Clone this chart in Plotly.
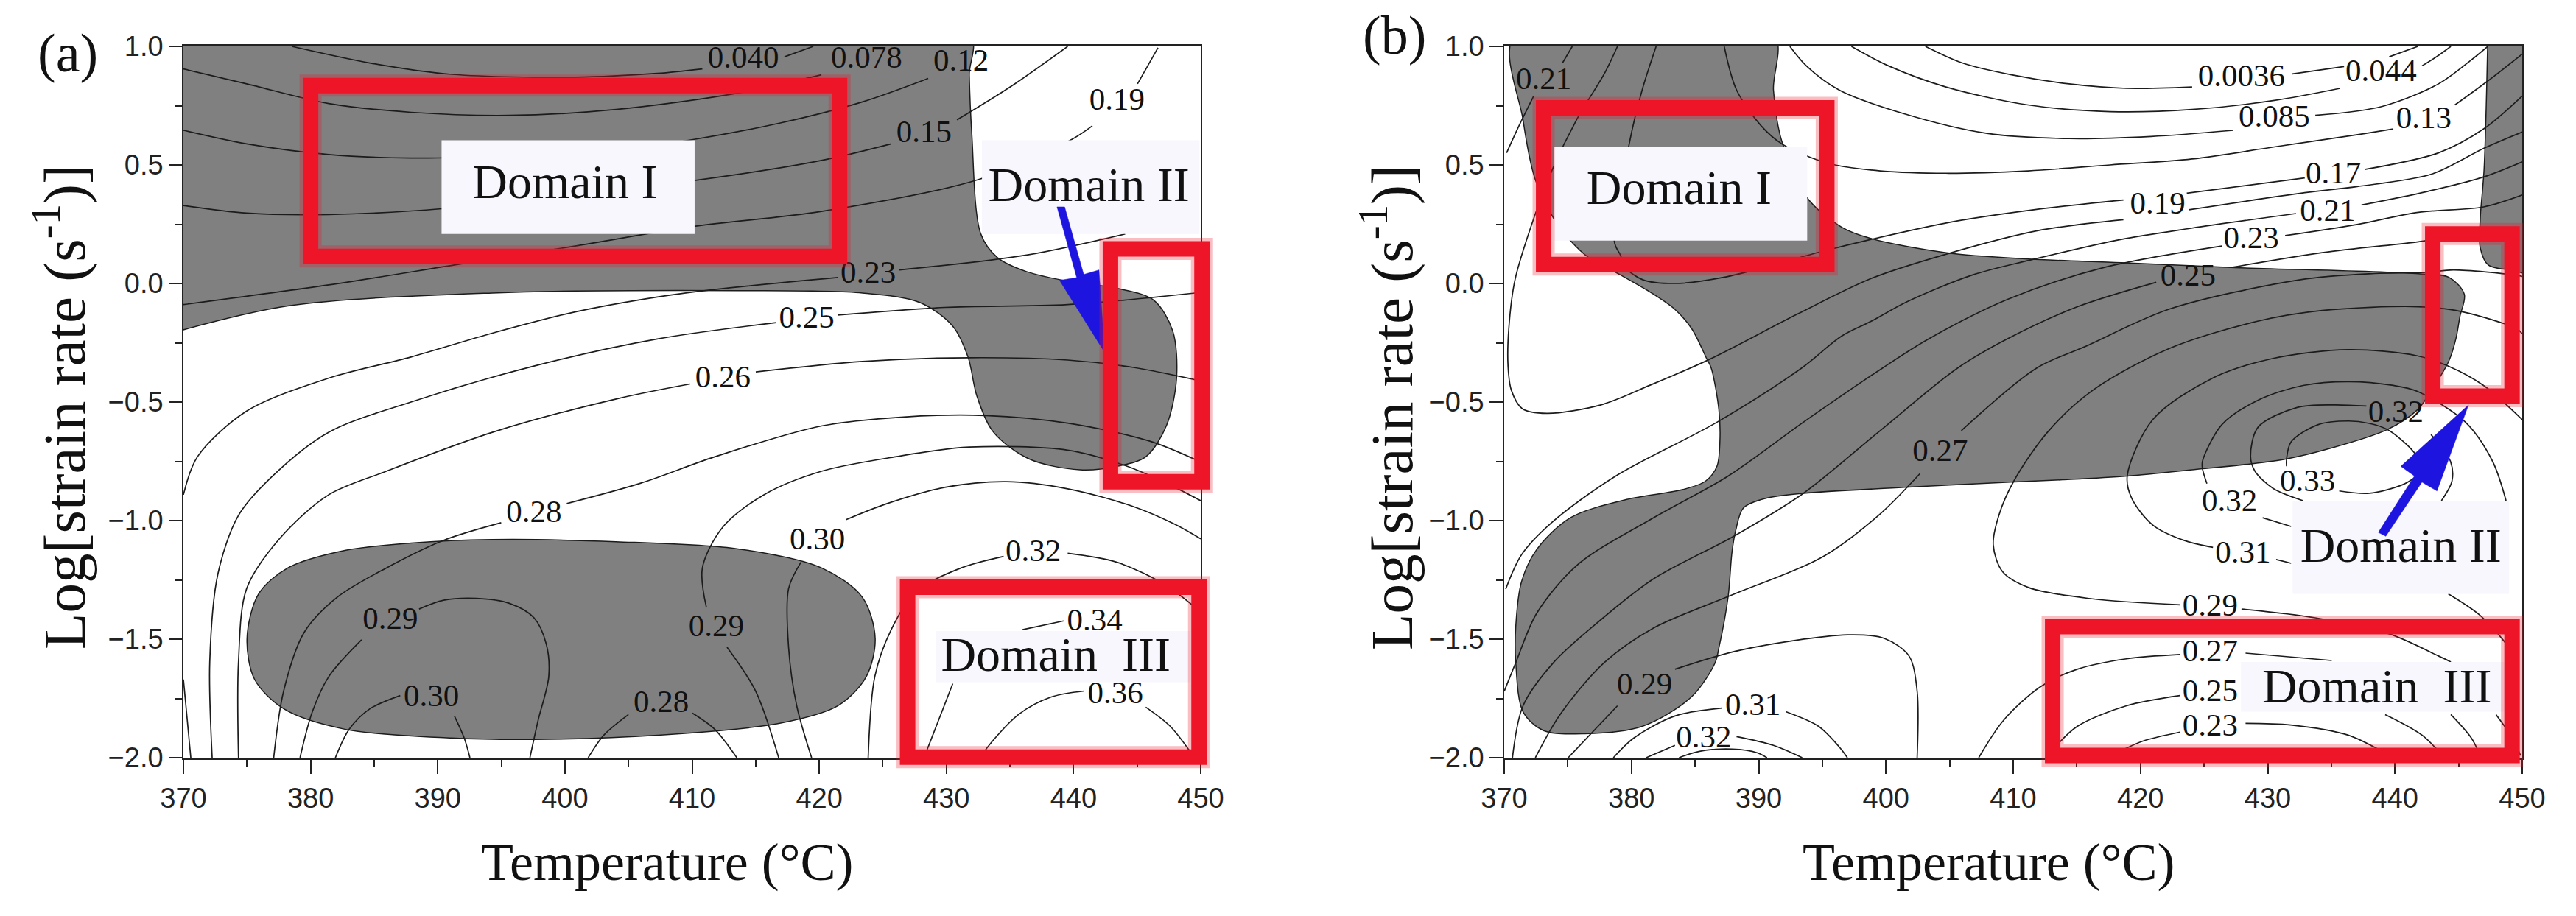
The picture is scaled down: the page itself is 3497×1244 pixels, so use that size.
import plotly.graph_objects as go

W, H = 3497, 1244
DOM_A = [249 / W, 1630 / W]
DOM_B = [2042 / W, 3424 / W]
DOM_Y = [1 - 1029 / H, 1 - 63 / H]
x_ticks = [370, 380, 390, 400, 410, 420, 430, 440, 450]
y_ticks = [-2.0, -1.5, -1.0, -0.5, 0.0, 0.5, 1.0]
X_RANGE = [370, 450]
Y_RANGE = [-2, 1]
GRAY, INK, RED, BLUE, BOX = "#808080", "#1c1c1c", "#ee1528", "#1e14e0", "#f7f7fd"
SERIF, SANS = "Liberation Serif", "Liberation Sans"

# ---------- panel (a): unstable regions ----------
gray_a_top = [(369, 1.05), (431.8, 1.05), (431.8, 0.88), (432, 0.63), (432.7, 0.21), (434, 0.11), (436.3, 0.05), (439.5, 0.01),
              (443.4, -0.02), (446.3, -0.07), (447.8, -0.2), (448.1, -0.4), (447.3, -0.6), (445.7, -0.73), (443.5, -0.77), (440.5, -0.786),
              (436.5, -0.74), (433.7, -0.627), (432.4, -0.475), (431.7, -0.31), (430.5, -0.18), (427.9, -0.08), (423.4, -0.04),
              (413.7, -0.03), (394.3, -0.04), (378.2, -0.095), (369, -0.21)]
gray_a_low = [(394.3, -1.08), (387.9, -1.095), (382.7, -1.126), (378.2, -1.2), (375.9, -1.31), (375, -1.497), (375.6, -1.67), (377.9, -1.794),
              (382.7, -1.88), (391.1, -1.917), (397.6, -1.923), (407.3, -1.905), (416.9, -1.855), (421.5, -1.78), (423.7, -1.658), (424.4, -1.497),
              (423.4, -1.324), (420.2, -1.2), (413.7, -1.12), (404, -1.089), (394.3, -1.08)]

# ---------- panel (a): iso-lines, split where a label interrupts them ----------
lines_a = [
    [(378.52, 1), (384.66, .93), (391.11, .882), (400.8, .87), (407.26, .886), (410.81, .905)],
    [(417.27, .956), (419.53, 1)],
    [(370, .905), (374.97, .842), (381.43, .759), (387.89, .722), (395.63, .709), (404.03, .734), (413.71, .804), (420.17, .88)],
    [(370, .646), (374.97, .589), (381.43, .544), (387.89, .529), (395.63, .538), (404.03, .563), (410.16, .608), (416.94, .677), (423.4, .766), (428.57, .865)],
    [(370, .329), (374.97, .297), (381.43, .291), (390.47, .316), (410.49, .437), (420.17, .519), (425.66, .589)],
    [(430.83, .69), (435.02, .829), (439.54, 1)],
    [(370, -.089), (381.43, -.006), (391.76, .082), (400.8, .158), (410.16, .241), (420.17, .304), (432.44, .437), (439.87, .608), (441.48, .665)],
    [(445.03, .842), (446.64, .994)],
    [(370, -.891), (371.1, -.731), (374.97, -.538), (381.43, -.399), (387.89, -.31), (394.34, -.209), (400.8, -.12), (407.26, -.057), (411.78, -.025), (421.46, .025)],
    [(426.31, .057), (436.31, .12), (444.06, .209)],
    [(372.26, -2), (372.07, -1.596), (372.71, -1.225), (374.33, -.978), (376.91, -.817), (381.43, -.627), (387.89, -.5), (397.57, -.348), (407.26, -.234), (416.62, -.165)],
    [(421.46, -.133), (429.86, -.101), (439.54, -.089), (450, -.038)],
    [(374.33, -2), (374.33, -1.596), (374.97, -1.287), (377.55, -1.077), (381.43, -.891), (385.95, -.792), (394.34, -.627), (404.03, -.487), (409.84, -.424)],
    [(415.01, -.373), (423.4, -.329), (431.79, -.313), (439.54, -.323), (444.71, -.354), (450, -.411)],
    [(377.1, -2), (377.88, -1.719), (379.49, -1.472), (382.07, -1.324), (385.95, -1.2), (390.47, -1.083), (394.99, -1.009)],
    [(400.15, -.928), (405.97, -.842), (411.78, -.731), (420.17, -.601), (426.63, -.563), (433.08, -.557), (439.54, -.589), (446, -.665), (450, -.753)],
    [(416.81, -2), (415, -1.719), (412.75, -1.534)],
    [(411.13, -1.367), (410.81, -1.2), (412.42, -1.027), (415.65, -.891), (420.17, -.792), (425.98, -.731), (431.79, -.69), (439.54, -.703), (444.06, -.768), (447.29, -.842), (450, -.916)],
    [(422.11, -.996), (425.34, -.928), (429.86, -.86), (434.7, -.836), (439.54, -.866), (444.71, -.941), (447.94, -1.015), (450, -1.077)],
    [(418.56, -1.176), (417.59, -1.287), (417.59, -1.534), (418.23, -1.781), (419.4, -2)],
    [(434.5, -1.151), (431.15, -1.2), (427.6, -1.299), (425.66, -1.46), (424.37, -1.658), (423.85, -2)],
    [(439.54, -1.138), (443.42, -1.176), (447.29, -1.274), (450, -1.386)],
    [(439.22, -1.423), (435.99, -1.46)],
    [(430.5, -1.688), (428.24, -2)],
    [(440.83, -1.719), (438.25, -1.744), (435.67, -1.818), (433.08, -1.967), (432.76, -2)],
    [(445.68, -1.787), (447.61, -1.868), (449.23, -1.979)],
    [(388.53, -1.373), (390.47, -1.336), (393.05, -1.328), (395.63, -1.349), (397.57, -1.41), (398.54, -1.522), (398.73, -1.658), (397.89, -1.843), (397.25, -2)],
    [(384.01, -1.503), (381.43, -1.658), (380.14, -1.806), (379.17, -2)],
    [(387.05, -1.738), (384.66, -1.794), (383.04, -1.88), (381.95, -2)],
    [(391.31, -1.824), (392.08, -1.917), (392.53, -2)],
    [(405, -1.818), (403.06, -1.905), (401.83, -2)],
    [(410.03, -1.812), (411.78, -1.88), (413.52, -2)],
    [(370, -1.67), (370.58, -2)],
]
labels_a = [("0.040", 414.04, .943), ("0.078", 423.72, .943), ("0.12", 431.15, .93), ("0.15", 428.24, .629), ("0.19", 443.42, .766),
            ("0.23", 423.85, .038), ("0.25", 419.01, -.152), ("0.26", 412.42, -.405), ("0.28", 397.57, -.972), ("0.30", 419.85, -1.087),
            ("0.32", 436.83, -1.138), ("0.34", 441.67, -1.429), ("0.36", 443.29, -1.738), ("0.29", 386.27, -1.423), ("0.29", 411.9, -1.454),
            ("0.30", 389.5, -1.75), ("0.28", 407.58, -1.775)]
boxes_a = [(390.3, 410.2, 0.209, 0.604), (432.8, 449.9, 0.209, 0.604), (429.2, 449.2, -1.682, -1.466)]
rects_a = [(380.0, 421.6, 0.114, 0.835), (442.9, 450.1, -0.836, 0.146), (426.95, 449.87, -1.998, -1.281)]
domains_a = [("Domain I", 400.0, 0.411), ("Domain II", 441.2, 0.399), ("Domain\u00a0\u00a0III", 438.6, -1.583)]
arrow_a = [(438.7, .323), (439.3, .323), (440.8, .038), (442.0, .057), (442.45, -.291), (438.9, .013), (440.25, .025), (438.7, .323)]

# ---------- panel (b): unstable regions ----------
gray_b_main = [(370.84, 1.05), (391.16, 1.05), (391.16, .816), (391.81, .601), (393.8, .362), (396.5, .238), (398.8, .19), (404.75, .13), (410.93, .104),
               (418.49, .088), (427.42, .067), (441.84, .041), (444.24, .026), (445.45, -.046), (445.1, -.14), (444.8, -.23), (444.24, -.326), (443, -.44),
               (441.76, -.533), (439.4, -.616), (434.67, -.699), (431.48, -.74), (428.65, -.761), (424.87, -.781), (418.96, -.812), (413.88, -.828), (409.76, -.838),
               (401.78, -.859), (393.51, -.885), (390.56, -.906), (388.79, -.947), (388.2, -1.04), (387.9, -1.133), (387.6, -1.32), (386.87, -1.537), (386.57, -1.6),
               (384.71, -1.744), (380.84, -1.868), (376.32, -1.899), (373.1, -1.886), (371.48, -1.806), (370.91, -1.6), (370.91, -1.444), (371.36, -1.258), (372.54, -1.123),
               (375.2, -.988), (379.63, -.911), (384.06, -.869), (385.83, -.833), (386.72, -.771), (386.95, -.668), (386.87, -.533), (386.27, -.357), (385.9, -.316),
               (384.74, -.191), (383.39, -.108), (381.46, -.036), (379.14, .036), (376.64, .109), (375.2, .181), (374.06, .259), (372.45, .437), (371.48, .69), (370.84, 1.05)]
gray_b_strip = [(447.3, 1.05), (447, .481), (446.7, .274), (446.7, .15), (447.33, .078), (449.05, .057), (451, .05), (451, 1.05)]

# ---------- panel (b): iso-lines ----------
lines_b = [
    [(403.1, 1), (406, .93), (409.87, .88), (414.39, .842), (418.9, .823), (424.06, .829)],
    [(431.94, .884), (436, .915)],
    [(439.55, .956), (441.8, 1)],
    [(397.29, 1), (400.19, .918), (404.71, .829), (411.16, .753), (417.61, .725), (424.06, .734), (430.52, .772), (435.68, .823)],
    [(442.13, .918), (443.42, .962), (444.39, 1)],
    [(392.45, 1), (393.74, .918), (396.32, .816), (401.48, .715), (407.94, .633), (414.39, .611), (420.84, .62), (427.29, .646)],
    [(433.74, .709), (439.0, .747), (443.42, .842), (446, .943), (447.29, 1)],
    [(387.29, 1), (388.26, .816), (390.19, .665), (391.81, .589), (394.06, .532), (396, .5), (399.55, .475), (404.71, .465), (411.16, .475), (417.61, .5), (424.06, .525), (430.52, .576), (436.97, .627), (439.87, .652)],
    [(444.71, .753), (447.29, .854), (450, .968)],
    [(375.35, 1), (374.58, .93)],
    [(372.32, .791), (371.16, .665), (370.19, .551)],
    [(381.94, 1), (380.84, .816), (379.87, .601), (378.66, .176), (379.14, .119), (379.53, .067), (380.88, .016), (383.39, 0), (387.25, .026), (391.11, .078), (394.97, .135), (398.83, .186), (405.1, .259), (411.62, .311), (418.66, .352)],
    [(423.64, .381), (432.91, .445)],
    [(437.61, .481), (443.42, .551), (446.97, .652), (450, .791)],
    [(378.9, 1), (377.94, .892), (375.68, .69), (373.81, .484), (372.39, .285), (370.85, .016), (370.36, -.191), (370.3, -.347), (370.56, -.45), (371.42, -.528), (373.35, -.548), (377.6, -.512), (381.46, -.429), (386.09, -.321), (393.04, -.129), (398.83, .021), (404.75, .124), (411.96, .223), (418.66, .269)],
    [(423.81, .311), (432.91, .383), (437.03, .409), (442.87, .461), (446.97, .57), (450, .639)],
    [(370.12, -1.289), (371.36, -1.144), (373.72, -1.009), (378.74, -.813), (386.72, -.585), (393.36, -.357), (396.51, -.222), (398.81, -.16), (401.66, -.077), (406.81, .036), (411.28, .098), (418.49, .186), (423.98, .233), (432.22, .295)],
    [(437.37, .331), (442.53, .388), (447, .45), (450, .513)],
    [(370, -1.72), (370.91, -1.599), (372.54, -1.392), (375.79, -1.185), (381.7, -.989), (387.6, -.812), (393.51, -.585), (399.72, -.357), (403.38, -.233), (409.56, -.067), (417.11, .067), (426.39, .158)],
    [(431.37, .202), (437.03, .249), (441.84, .3), (446.97, .323), (450, .373)],
    [(370.65, -2), (371.48, -1.781), (373.87, -1.599), (377.27, -1.433), (381.7, -1.247), (388.2, -1.061), (393.51, -.885), (399.42, -.626), (405.62, -.357), (409.56, -.233), (415.05, -.098), (421.24, .005)],
    [(427.07, .067), (434.28, .13), (441.84, .176), (444.59, .197)],
    [(372.45, -2), (374.39, -1.818), (377.86, -1.599), (381.7, -1.454), (387.6, -1.32), (395, -1.154), (399.42, -.978), (402.67, -.802)],
    [(405.92, -.621), (411.83, -.357), (415.74, -.264), (422.27, -.108), (432.57, .016), (438.4, .042), (442.53, .047), (444.59, .057), (449.39, .036), (450, .03)],
    [(423.1, -1.355), (416.2, -1.33), (411.24, -1.283), (409.17, -1.216), (408.43, -1.102), (408.87, -.978), (410.05, -.833), (412.71, -.626), (416.26, -.45), (422.27, -.274), (429.13, -.16), (434.28, -.114), (441.84, -.098), (445.27, -.119), (449.57, -.191), (450, -.212)],
    [(427.94, -1.373), (433.74, -1.41), (439.55, -1.478), (443.42, -1.571), (444.39, -1.596)],
    [(450, -.574), (446.96, -.43), (444.13, -.347), (441.76, -.305), (436.33, -.279), (430.42, -.316), (425.7, -.398), (420.97, -.574), (418.96, -.812), (419.31, -.906), (420.97, -1.019), (423.33, -1.082), (425.7, -1.113)],
    [(430.66, -1.164), (431.84, -1.18)],
    [(425.22, -.844), (424.87, -.781), (424.87, -.75), (426.4, -.595), (429.24, -.492), (432.78, -.43), (436.33, -.414), (439.87, -.43), (441.76, -.455), (445.54, -.585), (447.67, -.75), (448.73, -.916)],
    [(429.6, -.988), (431.84, -1.025)],
    [(444.19, -1.309), (446.65, -1.398), (448.58, -1.509), (449.68, -1.596)],
    [(432.78, -.916), (430.42, -.864), (429.0, -.792), (428.65, -.73), (429.24, -.606), (432.31, -.523), (435.15, -.512), (437.75, -.517)],
    [(442.83, -.637), (444.36, -.75), (444.48, -.833), (443.65, -.916)],
    [(431.48, -.771), (431.48, -.74), (431.84, -.668), (433.97, -.595), (436.33, -.58), (437.98, -.59), (439.4, -.616), (441.29, -.699), (442.24, -.771)],
    [(435.62, -.875), (437.98, -.885), (440.58, -.849), (441.76, -.812)],
    [(383.42, -1.627), (388.58, -1.546), (396.97, -1.482), (399.87, -1.497), (401.81, -1.571), (402.45, -1.719), (402.45, -2)],
    [(378.9, -1.781), (375.03, -2)],
    [(387.1, -1.791), (383.42, -1.824), (380.19, -1.917), (378.58, -2)],
    [(392.13, -1.806), (394.71, -1.868), (396.32, -1.954), (396.97, -2)],
    [(383.42, -1.948), (381.16, -2)],
    [(388.26, -1.911), (391.16, -1.948), (393.42, -2)],
    [(383.74, -2), (385.35, -1.973), (387.94, -1.964), (389.87, -1.979), (390.65, -2)],
    [(423.1, -1.565), (418.9, -1.583), (415.03, -1.627), (412.13, -1.701), (409.23, -1.843), (407.29, -2)],
    [(428.26, -1.559), (435.03, -1.59)],
    [(439.23, -1.818), (442.13, -1.905), (443.87, -2)],
    [(423.1, -1.738), (418.9, -1.781), (415.03, -1.868), (413.1, -1.967)],
    [(444.39, -1.818), (446, -1.917), (446.77, -2)],
    [(423.1, -1.892), (420.19, -1.93), (418.39, -1.973)],
    [(428.26, -1.855), (431.81, -1.862), (436.32, -1.905), (439.55, -1.991)],
    [(447.94, -1.818), (449.23, -1.917), (449.87, -1.991)],
]
labels_b = [("0.21", 373.1, .854), ("0.0036", 427.94, .867), ("0.044", 438.9, .886), ("0.085", 430.52, .696), ("0.13", 442.26, .69),
            ("0.17", 435.16, .456), ("0.19", 421.35, .329), ("0.21", 434.71, .297), ("0.23", 428.71, .184), ("0.25", 423.74, .025),
            ("0.32", 440.06, -.551), ("0.27", 404.26, -.715), ("0.33", 433.14, -.843), ("0.32", 427, -.926), ("0.31", 428.06, -1.144),
            ("0.29", 425.48, -1.367), ("0.27", 425.48, -1.561), ("0.25", 425.48, -1.726), ("0.23", 425.48, -1.874),
            ("0.29", 381.03, -1.701), ("0.31", 389.55, -1.787), ("0.32", 385.68, -1.923)]
boxes_b = [(373.93, 393.81, 0.181, 0.576), (431.96, 448.97, -1.309, -0.916), (427.9, 448.6, -1.806, -1.596)]
rects_b = [(373.1, 395.35, 0.08, 0.741), (442.97, 449.2, -0.475, 0.209), (413.1, 449.2, -1.991, -1.447)]
domains_b = [("Domain I", 383.74, 0.386), ("Domain II", 440.46, -1.123), ("Domain\u00a0\u00a0III", 438.58, -1.716)]
arrow_b = [(438.69, -1.05), (439.28, -1.066), (442.12, -.838), (443.3, -.875), (445.78, -.512), (440.46, -.771), (441.53, -.812), (438.69, -1.05)]


def add_panel(fig, xa, ya, grays, lines, labels, boxes, domains, arrow):
    base = dict(xaxis=xa, yaxis=ya, showlegend=False, hoverinfo="skip")
    for poly in grays:
        fig.add_trace(go.Scatter(x=[p[0] for p in poly], y=[p[1] for p in poly], mode="lines", fill="toself", fillcolor=GRAY,
                                 line=dict(color=INK, width=1.5, shape="spline", smoothing=0.9), **base))
    for seg in lines:
        fig.add_trace(go.Scatter(x=[p[0] for p in seg], y=[p[1] for p in seg], mode="lines",
                                 line=dict(color=INK, width=1.7, shape="spline", smoothing=0.9), **base))
    fig.add_trace(go.Scatter(x=[l[1] for l in labels], y=[l[2] for l in labels], text=[l[0] for l in labels], mode="text",
                             textfont=dict(family=SERIF, size=43, color="#111"), cliponaxis=False, **base))
    for x0, x1, y0, y1 in boxes:
        fig.add_trace(go.Scatter(x=[x0, x1, x1, x0, x0], y=[y0, y0, y1, y1, y0], mode="lines", fill="toself", fillcolor=BOX,
                                 line=dict(color=BOX, width=0), **base))
    fig.add_trace(go.Scatter(x=[p[0] for p in arrow], y=[p[1] for p in arrow], mode="lines", fill="toself", fillcolor=BLUE,
                             line=dict(color=BLUE, width=0.5), **base))
    fig.add_trace(go.Scatter(x=[d[1] for d in domains], y=[d[2] for d in domains], text=[d[0] for d in domains], mode="text",
                             textfont=dict(family=SERIF, size=66, color="#111"), cliponaxis=False, **base))


def red_frames(rects, dom):
    # paper-referenced so that the thick frames may overrun the plot area, as in the reference
    out = []
    for x0, x1, y0, y1 in rects:
        fx = [dom[0] + (v - X_RANGE[0]) / (X_RANGE[1] - X_RANGE[0]) * (dom[1] - dom[0]) for v in (x0, x1)]
        fy = [DOM_Y[0] + (v - Y_RANGE[0]) / (Y_RANGE[1] - Y_RANGE[0]) * (DOM_Y[1] - DOM_Y[0]) for v in (y0, y1)]
        for width, alpha in ((30, 0.28), (21, 1.0)):
            out.append(dict(type="rect", xref="paper", yref="paper", x0=fx[0], x1=fx[1], y0=fy[0], y1=fy[1],
                            line=dict(color=RED, width=width), opacity=alpha, layer="above"))
    return out


fig = go.Figure()
add_panel(fig, "x", "y", [gray_a_top, gray_a_low], lines_a, labels_a, boxes_a, domains_a, arrow_a)
add_panel(fig, "x2", "y2", [gray_b_main, gray_b_strip], lines_b, labels_b, boxes_b, domains_b, arrow_b)

xaxis = dict(range=X_RANGE, tickvals=x_ticks, ticks="outside", ticklen=19, tickwidth=2, tickcolor="#222",
             minor=dict(dtick=5, ticks="outside", ticklen=10, tickwidth=2, tickcolor="#222"),
             tickfont=dict(family=SANS, size=38, color="#222"), showline=True, linewidth=3, linecolor="#222", mirror=True,
             showgrid=False, zeroline=False, layer="below traces")
yaxis = dict(range=Y_RANGE, tickvals=y_ticks, tickformat=".1f", ticks="outside", ticklen=18, tickwidth=2, tickcolor="#222",
             minor=dict(dtick=0.25, ticks="outside", ticklen=9, tickwidth=2, tickcolor="#222"),
             tickfont=dict(family=SANS, size=38, color="#222"), showline=True, linewidth=1.5, linecolor="#222", mirror=True,
             showgrid=False, zeroline=False, layer="below traces")


def note(text, px, py, size, angle=0):
    return dict(text=text, x=px / W, y=1 - py / H, xref="paper", yref="paper", xanchor="center", yanchor="middle", showarrow=False,
                textangle=angle, font=dict(family=SERIF, size=size, color="#111"))


fig.update_layout(width=W, height=H, autosize=False, margin=dict(l=0, r=0, t=0, b=0, pad=0, autoexpand=False), paper_bgcolor="white", plot_bgcolor="white",
                  xaxis=dict(xaxis, domain=DOM_A, anchor="y"), yaxis=dict(yaxis, domain=DOM_Y, anchor="x"),
                  xaxis2=dict(xaxis, domain=DOM_B, anchor="y2"), yaxis2=dict(yaxis, domain=DOM_Y, anchor="x2"),
                  shapes=red_frames(rects_a, DOM_A) + red_frames(rects_b, DOM_B),
                  annotations=[note("(a)", 92, 72, 74), note("(b)", 1893, 48, 74),
                               note("Temperature (°C)", 906, 1171, 72), note("Temperature (°C)", 2700, 1171, 72),
                               note("Log[strain rate (s<sup>-1</sup>)]", 82, 553, 81, -90),
                               note("Log[strain rate (s<sup>-1</sup>)]", 1884, 553, 81, -90)])

fig.write_html("out.html", config=dict(displayModeBar=False), post_script="document.body.style.margin='0';document.documentElement.style.overflow='hidden';")
